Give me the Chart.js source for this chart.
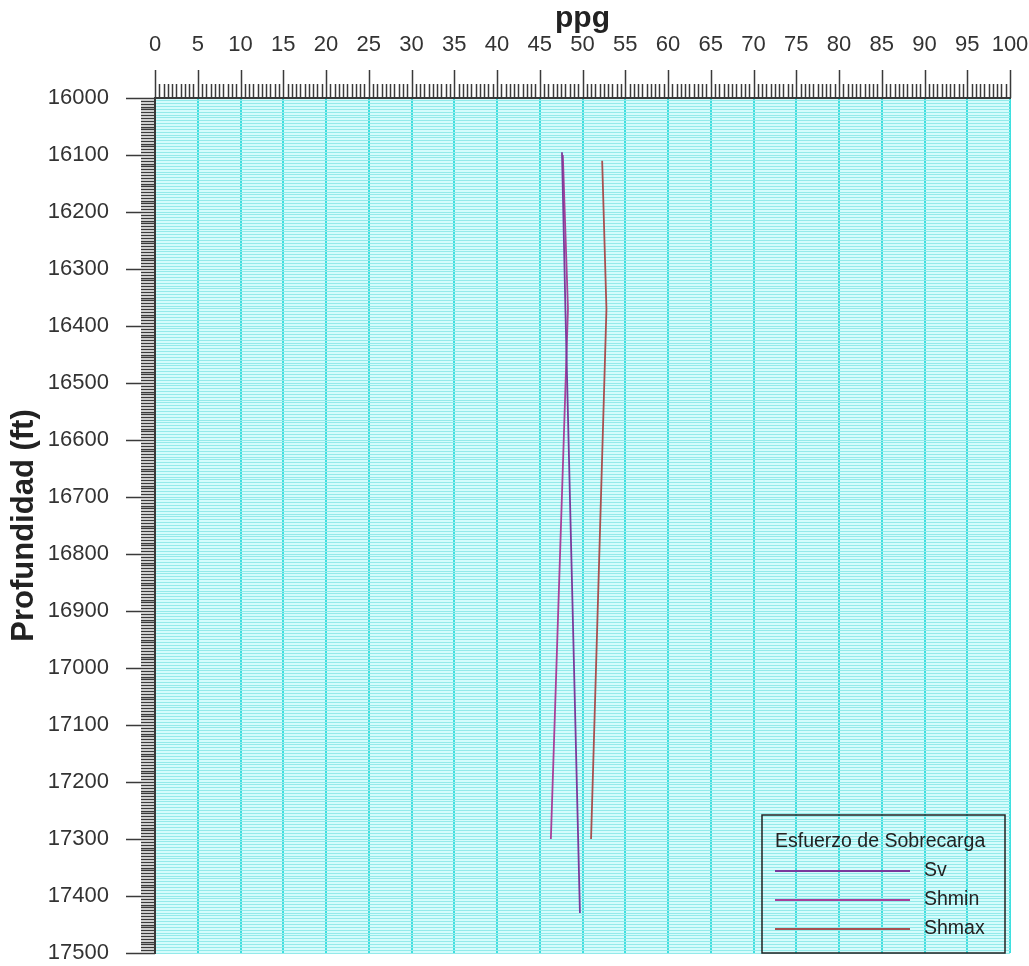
<!DOCTYPE html>
<html>
<head>
<meta charset="utf-8">
<script src="https://cdn.jsdelivr.net/npm/chart.js@4.4.0/dist/chart.umd.min.js"></script>
<style>
  body { margin: 0; background: #fff; }
</style>
</head>
<body>
<canvas id="grafico" width="1029" height="966"></canvas>
<script>
    // profundidades (ft) y valores (ppg)
    const profSv = [16095, 16370, 17430];
    const valSv = [47.6, 48.0, 49.7];
    const profShmin = [16100, 16370, 17300];
    const valShmin = [47.7, 48.3, 46.3];
    const profShmax = [16110, 16370, 17300];
    const valShmax = [52.3, 52.8, 51.0];

    const ejeX = [0, 100];          // ppg
    const ejeY = [16000, 17500];    // ft
    const pasoX = 5, pasoXmenor = 0.5;
    const pasoY = 5, pasoYmayor = 100;

    const fuente = "'Liberation Sans', Arial, sans-serif";

    function puntos(prof, val) {
        return prof.map((p, i) => ({ x: val[i], y: p }));
    }

    const fondo = {
        id: 'fondo',
        beforeDraw(chart) {
            const a = chart.chartArea, ctx = chart.ctx;
            ctx.save();
            ctx.fillStyle = '#d4fcfc';
            ctx.fillRect(a.left, a.top, a.right - a.left, a.bottom - a.top);
            ctx.restore();
        }
    };

    // marcas mayores y menores de los ejes
    const marcas = {
        id: 'marcas',
        afterDraw(chart) {
            const ctx = chart.ctx, a = chart.chartArea;
            const xs = chart.scales.x, ys = chart.scales.y;
            ctx.save();
            ctx.strokeStyle = '#3a3a3a';
            ctx.lineWidth = 1.5;
            ctx.beginPath();
            for (let v = xs.min; v <= xs.max + 1e-9; v += pasoXmenor) {
                const px = Math.round(xs.getPixelForValue(v)) + 0.5;
                const mayor = Math.abs(v / pasoX - Math.round(v / pasoX)) < 1e-6;
                ctx.moveTo(px, a.top);
                ctx.lineTo(px, a.top - (mayor ? 28 : 14));
            }
            for (let v = ys.min; v <= ys.max; v += pasoY) {
                const py = Math.round(ys.getPixelForValue(v)) + 0.5;
                const mayor = v % pasoYmayor === 0;
                ctx.moveTo(a.left, py);
                ctx.lineTo(a.left - (mayor ? 29 : 14), py);
            }
            ctx.stroke();
            ctx.restore();
        }
    };

    const leyenda = {
        id: 'leyenda',
        afterDraw(chart) {
            const ctx = chart.ctx, a = chart.chartArea;
            const w = 243, h = 138;
            const x0 = a.right - w - 5, y0 = a.bottom - h;
            ctx.save();
            ctx.strokeStyle = '#222';
            ctx.lineWidth = 1.5;
            ctx.strokeRect(x0, y0, w, h);
            ctx.fillStyle = '#222';
            ctx.font = '19.5px ' + fuente;
            ctx.textBaseline = 'middle';
            ctx.fillText('Esfuerzo de Sobrecarga', x0 + 13, y0 + 27);
            chart.data.datasets.forEach((ds, i) => {
                const y = y0 + 56 + i * 29;
                ctx.strokeStyle = ds.borderColor;
                ctx.lineWidth = 2;
                ctx.beginPath();
                ctx.moveTo(x0 + 13, y);
                ctx.lineTo(x0 + 148, y);
                ctx.stroke();
                ctx.fillText(ds.label, x0 + 162, y);
            });
            ctx.restore();
        }
    };

    const data = {
        datasets: [{
                label: 'Sv',
                data: puntos(profSv, valSv),
                borderColor: '#7a3a9c',
            },
            {
                label: 'Shmin',
                data: puntos(profShmin, valShmin),
                borderColor: '#a8409a',
            },
            {
                label: 'Shmax',
                data: puntos(profShmax, valShmax),
                borderColor: '#a85050',
            }
        ]
    };
    data.datasets.forEach(ds => {
        ds.showLine = true;
        ds.pointRadius = 0;
        ds.borderWidth = 1.8;
        ds.fill = false;
    });

    const config = {
        type: 'scatter',
        data: data,
        options: {
            responsive: false,
            animation: false,
            layout: { padding: { top: 0, right: 19, bottom: 13, left: 0 } },
            plugins: {
                legend: { display: false },
                tooltip: { enabled: false }
            },
            scales: {
                x: {
                    position: 'top',
                    min: ejeX[0],
                    max: ejeX[1],
                    afterFit(scale) {
                        scale.height = 98;
                        scale.paddingLeft = 0;
                        scale.paddingRight = 0;
                    },
                    ticks: {
                        stepSize: pasoX,
                        autoSkip: false,
                        maxRotation: 0,
                        padding: 40,
                        color: '#333',
                        font: { family: fuente, size: 22 }
                    },
                    grid: { color: '#3fe0e0', lineWidth: 2, drawTicks: false },
                    border: { display: true, color: '#3a3a3a', width: 2 },
                    title: {
                        display: true,
                        text: 'ppg',
                        color: '#222',
                        padding: { top: 1, bottom: 0 },
                        font: { family: fuente, size: 30, weight: 'bold' }
                    }
                },
                y: {
                    reverse: true,
                    min: ejeY[0],
                    max: ejeY[1],
                    afterFit(scale) {
                        scale.width = 155;
                        scale.paddingTop = 0;
                        scale.paddingBottom = 0;
                    },
                    ticks: {
                        stepSize: pasoY,
                        autoSkip: false,
                        padding: 46,
                        color: '#333',
                        font: { family: fuente, size: 22 },
                        callback: function(value) {
                            return value % pasoYmayor === 0 ? String(value) : '';
                        }
                    },
                    grid: { color: '#94eaea', lineWidth: 1, drawTicks: false },
                    border: { display: true, color: '#3a3a3a', width: 2 },
                    title: {
                        display: true,
                        text: 'Profundidad (ft)',
                        color: '#222',
                        padding: { top: 6, bottom: 0 },
                        font: { family: fuente, size: 31, weight: 'bold' }
                    }
                }
            }
        },
        plugins: [fondo, marcas, leyenda]
    };

    const ctx = document.getElementById('grafico').getContext('2d');
    const chart = new Chart(ctx, config);
</script>
</body>
</html>
